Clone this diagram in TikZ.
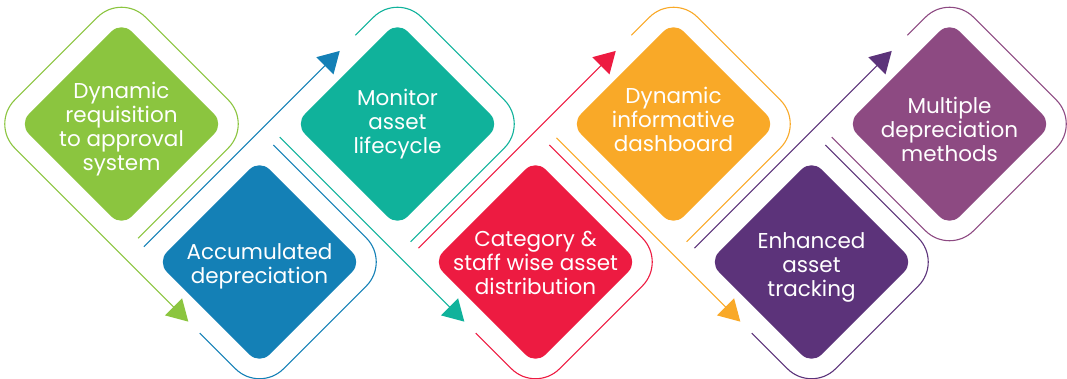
\documentclass[tikz,border=0pt]{standalone}
\usepackage{fontspec}
\setmainfont{Poppins}
\usetikzlibrary{arrows.meta}
\definecolor{cgreen}{HTML}{8BC53F}
\definecolor{cblue}{HTML}{1480B6}
\definecolor{cteal}{HTML}{10B29B}
\definecolor{cred}{HTML}{ED1B41}
\definecolor{corange}{HTML}{F9A928}
\definecolor{cdpurple}{HTML}{5C337A}
\definecolor{cpurple}{HTML}{8D4A82}
\tikzset{
  dia/.style={rectangle, rounded corners=14pt, minimum size=145pt, inner sep=0pt, rotate=45},
  lbl/.style={text=white, align=center, font=\fontsize{21.5}{24}\selectfont, inner sep=0pt},
  trk/.style={line width=1.1pt, rounded corners=34pt},
  arr/.style={-{Triangle[length=21pt,width=24pt]}},
  loc/.style={x={(0.7071pt,-0.7071pt)}, y={(0.7071pt,0.7071pt)}}
}
\begin{document}
\begin{tikzpicture}[x=1pt,y=-1pt]
\useasboundingbox (0,0) rectangle (1067,379);
% centres
\coordinate (c1) at (121.5,124);
\coordinate (c2) at (259.5,262);
\coordinate (c3) at (397.5,124);
\coordinate (c4) at (535.5,262);
\coordinate (c5) at (673.5,124);
\coordinate (c6) at (811.5,262);
\coordinate (c7) at (949.5,124);
% diamonds
\node[dia, fill=cgreen]   (d1) at (c1) {};
\node[dia, fill=cblue]    (d2) at (c2) {};
\node[dia, fill=cteal]    (d3) at (c3) {};
\node[dia, fill=cred]     (d4) at (c4) {};
\node[dia, fill=corange]  (d5) at (c5) {};
\node[dia, fill=cdpurple] (d6) at (c6) {};
\node[dia, fill=cpurple]  (d7) at (c7) {};
% labels
\node[lbl] (t1) at (121.5,129) {Dynamic\\requisition\\to approval\\system};
\node[lbl] (t2) at (259.5,266) {Accumulated\\depreciation};
\node[lbl] (t3) at (397.5,124) {Monitor\\asset\\lifecycle};
\node[lbl] (t4) at (535.5,263) {Category \&\\staff wise asset\\distribution};
\node[lbl] (t5) at (673.5,119) {Dynamic\\informative\\dashboard};
\node[lbl] (t6) at (811.5,267) {Enhanced\\asset\\tracking};
\node[lbl] (t7) at (949.5,129) {Multiple\\depreciation\\methods};
% tracks: diamond 1
\begin{scope}[shift={(c1)}, loc, cgreen]
  \draw[trk, arr] (92.5,-69) -- (92.5,92.5) -- (-92.5,92.5) -- (-92.5,-92.5) -- (187,-92.5);
\end{scope}
% bottom diamonds
\begin{scope}[shift={(c2)}, loc, cblue]
  \draw[trk] (8,-92.5) -- (92.5,-92.5) -- (92.5,92.5) -- (-73,92.5);
  \draw[trk, arr] (-92.5,-71) -- (-92.5,206);
\end{scope}
\begin{scope}[shift={(c4)}, loc, cred]
  \draw[trk] (8,-92.5) -- (92.5,-92.5) -- (92.5,92.5) -- (-73,92.5);
  \draw[trk, arr] (-92.5,-73) -- (-92.5,206);
\end{scope}
\begin{scope}[shift={(c6)}, loc, cdpurple]
  \draw[trk] (8,-92.5) -- (92.5,-92.5) -- (92.5,92.5) -- (-73,92.5);
  \draw[trk, arr] (-92.5,-73) -- (-92.5,206);
\end{scope}
% middle top diamonds
\begin{scope}[shift={(c3)}, loc, cteal]
  \draw[trk] (-92.5,33) -- (-92.5,92.5) -- (92.5,92.5) -- (92.5,-74);
  \draw[trk, arr] (-74,-92.5) -- (187,-92.5);
\end{scope}
\begin{scope}[shift={(c5)}, loc, corange]
  \draw[trk] (-92.5,33) -- (-92.5,92.5) -- (92.5,92.5) -- (92.5,-74);
  \draw[trk, arr] (-73,-92.5) -- (187,-92.5);
\end{scope}
% last diamond
\begin{scope}[shift={(c7)}, loc, cpurple]
  \draw[trk] (-92.5,33) -- (-92.5,92.5) -- (92.5,92.5) -- (92.5,-92.5) -- (-74,-92.5);
\end{scope}
\end{tikzpicture}
\end{document}
